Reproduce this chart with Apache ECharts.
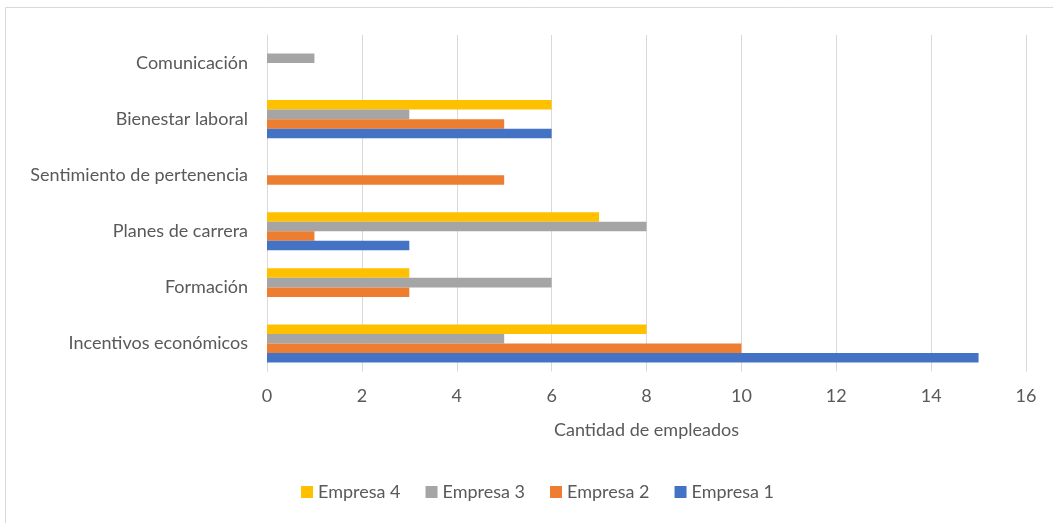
<!DOCTYPE html>
<html>
<head>
<meta charset="utf-8">
<script src="https://cdn.jsdelivr.net/npm/echarts@6/dist/echarts.min.js"></script>
<style>html,body{margin:0;padding:0;background:#fff}#c{width:1053px;height:523px}</style>
</head>
<body>
<div id="c"></div>
<script>
const categories = ['Incentivos económicos','Formación','Planes de carrera','Sentimiento de pertenencia','Bienestar laboral','Comunicación'];
const empresa1 = [15, 0, 3, 0, 6, 0];
const empresa2 = [10, 3, 1, 5, 5, 0];
const empresa3 = [5, 6, 8, 0, 3, 1];
const empresa4 = [8, 3, 7, 0, 6, 0];
const xTicks = {min: 0, max: 16, interval: 2};
const legendOrder = ['Empresa 4','Empresa 3','Empresa 2','Empresa 1'];

const FONT = 'Lato';
const FS = 18;
const TXT = '#595959';
const chart = echarts.init(document.getElementById('c'), null, {renderer: 'canvas'});
function s(name, data, color) {
  return {name, type: 'bar', data, itemStyle: {color}, barGap: '0%', barCategoryGap: '32%'};
}
chart.setOption({
  animation: false,
  textStyle: {fontFamily: FONT},
  graphic: [{type: 'rect', shape: {x: 5.5, y: 7.5, width: 1100, height: 600}, style: {fill: 'none', stroke: '#D9D9D9', lineWidth: 1}, silent: true}],
  grid: {left: 267, right: 27, top: 35, bottom: 151.5, containLabel: false},
  legend: {
    data: legendOrder, top: 478, left: 296, icon: 'rect', itemWidth: 12, itemHeight: 12, itemGap: 25,
    textStyle: {color: TXT, fontSize: FS, fontFamily: FONT}
  },
  xAxis: {
    type: 'value', min: xTicks.min, max: xTicks.max, interval: xTicks.interval,
    name: 'Cantidad de empleados', nameLocation: 'middle', nameGap: 50,
    nameTextStyle: {color: TXT, fontSize: FS, fontFamily: FONT},
    axisLine: {show: false}, axisTick: {show: false},
    axisLabel: {color: TXT, fontSize: FS, margin: 16, fontFamily: FONT},
    splitLine: {lineStyle: {color: '#D9D9D9', width: 1}}
  },
  yAxis: {
    type: 'category', data: categories,
    axisLine: {show: true, lineStyle: {color: '#D9D9D9'}}, axisTick: {show: false},
    axisLabel: {color: TXT, fontSize: FS, margin: 19, fontFamily: FONT}
  },
  series: [
    s('Empresa 4', empresa4, '#FFC000'),
    s('Empresa 3', empresa3, '#A5A5A5'),
    s('Empresa 2', empresa2, '#ED7D31'),
    s('Empresa 1', empresa1, '#4472C4')
  ]
});
</script>
</body>
</html>
